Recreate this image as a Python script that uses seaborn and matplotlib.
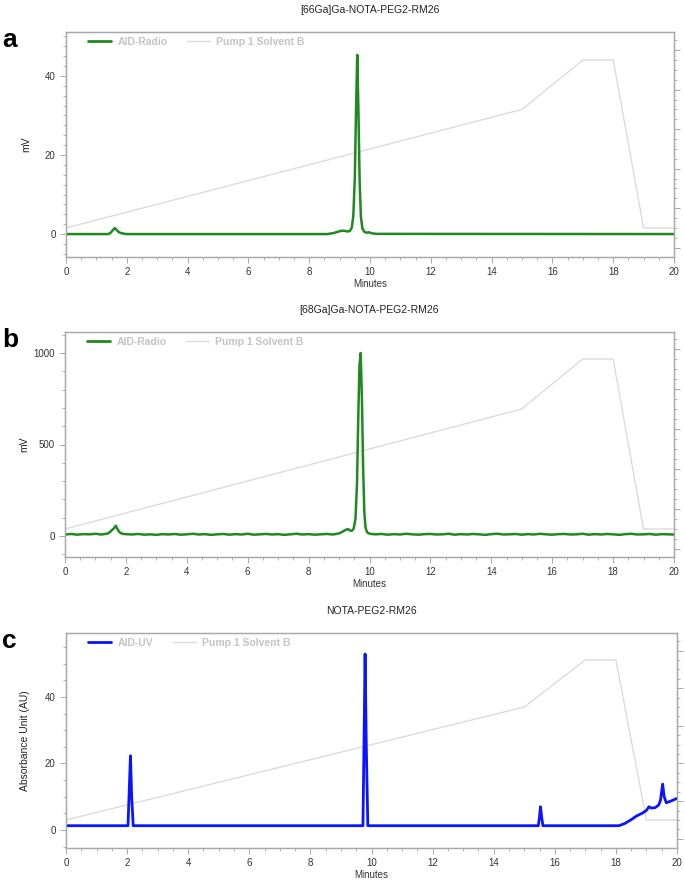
import numpy as np
import pandas as pd
import matplotlib
matplotlib.use("Agg")
import matplotlib.pyplot as plt
import seaborn as sns
from matplotlib.ticker import MultipleLocator, AutoMinorLocator, NullFormatter
from matplotlib.lines import Line2D

# ---------------- data ----------------
titles = ["[66Ga]Ga-NOTA-PEG2-RM26", "[68Ga]Ga-NOTA-PEG2-RM26", "NOTA-PEG2-RM26"]
panel_letters = ["a", "b", "c"]
y_labels = ["mV", "mV", "Absorbance Unit (AU)"]
trace_names = ["AID-Radio", "AID-Radio", "AID-UV"]
gradient_name = "Pump 1 Solvent B"

# solvent B gradient (% B)
grad_time = [0, 15, 17, 18, 19, 20]
grad_pct = [10, 70, 95, 95, 10, 10]

# panel a: [66Ga] radio trace (mV)
a_time = [0, 1.40, 1.48, 1.54, 1.60, 1.66, 1.72, 1.80, 1.90, 2.0, 8.6, 8.8, 8.95, 9.07, 9.18, 9.26,
          9.34, 9.40, 9.45, 9.50, 9.54, 9.58, 9.62, 9.66, 9.70, 9.75, 9.82, 9.90, 9.97, 10.05, 10.2, 20]
a_mv = [0, 0, 0.4, 1.0, 1.5, 1.1, 0.6, 0.25, 0.1, 0, 0, 0.25, 0.6, 0.85, 0.8, 0.65,
        0.8, 1.6, 4.5, 14, 31, 45.3, 31, 13, 4.5, 1.4, 0.5, 0.35, 0.45, 0.2, 0.05, 0]

# panel b: [68Ga] radio trace (mV), noisy baseline
b_time = [0.0, 0.2, 0.4, 0.6, 0.8, 1.0, 1.2, 1.4,
          1.48, 1.54, 1.60, 1.67, 1.72, 1.78, 1.85, 1.92,
          2.0, 2.2, 2.4, 2.6, 2.8, 3.0, 3.2, 3.4, 3.6, 3.8, 4.0, 4.2, 4.4, 4.6, 4.8, 5.0, 5.2, 5.4,
          5.6, 5.8, 6.0, 6.2, 6.4, 6.6, 6.8, 7.0, 7.2, 7.4, 7.6, 7.8, 8.0, 8.2, 8.4, 8.6, 8.8,
          9.0, 9.1, 9.2, 9.29, 9.36, 9.42, 9.48, 9.54, 9.59, 9.63, 9.67, 9.71, 9.75, 9.79, 9.83,
          9.87, 9.92, 9.98, 10.05,
          10.2, 10.4, 10.6, 10.8, 11.0, 11.2, 11.4, 11.6, 11.8, 12.0, 12.2, 12.4, 12.6, 12.8, 13.0,
          13.2, 13.4, 13.6, 13.8, 14.0, 14.2, 14.4, 14.6, 14.8, 15.0, 15.2, 15.4, 15.6, 15.8, 16.0,
          16.2, 16.4, 16.6, 16.8, 17.0, 17.2, 17.4, 17.6, 17.8, 18.0, 18.2, 18.4, 18.6, 18.8, 19.0,
          19.2, 19.4, 19.6, 19.8, 20.0]
b_mv = [8, 11, 7, 10, 9, 12, 8, 13,
        22, 32, 41, 56, 38, 22, 14, 11,
        10, 8, 11, 7, 9, 6, 10, 8, 11, 7, 9, 12, 8, 10, 6, 9, 11, 7,
        10, 8, 12, 7, 9, 11, 8, 10, 6, 9, 12, 8, 10, 7, 9, 11, 8,
        14, 22, 32, 38, 30, 28, 40, 95, 290, 640, 930, 1000, 760, 380, 130,
        45, 20, 14, 11,
        9, 11, 7, 10, 8, 12, 9, 7, 10, 11, 8, 9, 12, 7, 10,
        8, 11, 9, 6, 10, 12, 8, 9, 11, 7, 10, 8, 12, 9, 7,
        10, 11, 8, 9, 12, 7, 10, 8, 11, 9, 6, 10, 12, 8, 9,
        11, 7, 10, 9, 8]

# panel c: UV trace (AU)
c_time = [0, 2.03, 2.07, 2.11, 2.15, 2.20, 9.72, 9.76, 9.79, 9.83, 9.88, 15.46, 15.50, 15.53,
          15.57, 15.61, 18.10, 18.30, 18.50, 18.67, 18.85, 19.00, 19.08, 19.16, 19.28, 19.40, 19.46,
          19.53, 19.58, 19.65, 19.80, 20.0]
c_au = [1.3, 1.3, 12, 22.3, 10, 1.3, 1.3, 30, 52.9, 25, 1.3, 1.3, 4, 7.0,
        4, 1.3, 1.3, 2.0, 3.1, 4.2, 5.0, 5.9, 7.0, 6.6, 6.7, 7.5, 9.0,
        13.8, 10.0, 8.2, 8.7, 9.5]

traces = [
    pd.DataFrame({"Minutes": a_time, "Signal": a_mv}),
    pd.DataFrame({"Minutes": b_time, "Signal": b_mv}),
    pd.DataFrame({"Minutes": c_time, "Signal": c_au}),
]
grad_df = pd.DataFrame({"Minutes": grad_time, "B": grad_pct})

trace_colors = ["#1f8a1f", "#1f8a1f", "#0a14ff"]
trace_lw = [1.8, 1.8, 2.0]
grad_color = "#dcdcdc"
spine_color = "#a8a8a8"

# ---------------- layout ----------------
W, H = 685, 884
boxes = [  # left, top, right, bottom in pixels
    (66, 32, 674, 257),
    (65, 332, 674, 557),
    (66, 633, 677, 848),
]
ylims = [(-5.8, 51.1), (-115, 1115), (-5.4, 59.2)]
grad_lims = [(-4.7, 109.2), (-4.0, 108.5), (-4.9, 109.3)]
y_major = [20, 500, 20]
y_minor_div = [8, 5, 4]
ylabel_pads = [10, 3, 11]

sns.set_style("ticks")
plt.rcParams["font.family"] = ["Liberation Sans", "DejaVu Sans"]

fig = plt.figure(figsize=(W / 100, H / 100), dpi=100)

for i in range(3):
    l, t, r, b = boxes[i]
    ax = fig.add_axes([l / W, 1 - b / H, (r - l) / W, (b - t) / H])
    ax2 = ax.twinx()
    sns.lineplot(data=grad_df, x="Minutes", y="B", ax=ax2, color=grad_color, lw=1.0,
                 estimator=None, sort=False)
    sns.lineplot(data=traces[i], x="Minutes", y="Signal", ax=ax, color=trace_colors[i],
                 lw=trace_lw[i], estimator=None, sort=False)
    ax.set_zorder(ax2.get_zorder() + 1)
    ax.patch.set_visible(False)

    ax.set_xlim(0, 20)
    ax.set_ylim(*ylims[i])
    ax2.set_ylim(*grad_lims[i])
    ax.xaxis.set_major_locator(MultipleLocator(2))
    ax.xaxis.set_minor_locator(MultipleLocator(0.5))
    ax.yaxis.set_major_locator(MultipleLocator(y_major[i]))
    ax.yaxis.set_minor_locator(AutoMinorLocator(y_minor_div[i]))
    ax2.yaxis.set_major_locator(MultipleLocator(20))
    ax2.yaxis.set_minor_locator(MultipleLocator(5))
    ax2.yaxis.set_major_formatter(NullFormatter())
    ax2.set_ylabel("")

    for a_ in (ax, ax2):
        for s in a_.spines.values():
            s.set_color(spine_color)
            s.set_linewidth(0.9)
        a_.tick_params(which="major", length=4, width=0.7, color=spine_color,
                       labelsize=7, labelcolor="#333333")
        a_.tick_params(which="minor", length=2, width=0.6, color=spine_color)
    ax.spines["right"].set_visible(True)
    ax.spines["top"].set_visible(True)

    ax.set_xlabel("Minutes", fontsize=7, color="#333333", labelpad=1)
    ax.set_ylabel(y_labels[i], fontsize=7.5, color="#222222", labelpad=ylabel_pads[i])
    ax.set_title(titles[i], fontsize=7.5, color="#222222", pad=14)

    handles = [Line2D([], [], color=trace_colors[i], lw=2.0),
               Line2D([], [], color=grad_color, lw=1.0)]
    leg = ax.legend(handles, [trace_names[i], gradient_name], loc="upper left",
                    bbox_to_anchor=(0.021, 1.02), ncol=2, frameon=False, fontsize=7.5,
                    handlelength=2.2, columnspacing=1.9, handletextpad=0.6)
    for txt in leg.get_texts():
        txt.set_color("#c4c4c4")
        txt.set_fontweight("bold")

    fig.text(2 / W, 1 - (t + 8) / H, panel_letters[i], fontsize=19, fontweight="bold",
             va="center", ha="left", color="black")

fig.savefig("out.png", dpi=100)
